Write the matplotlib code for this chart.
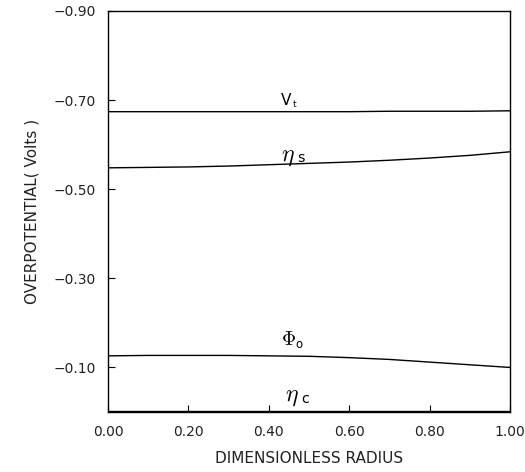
import numpy as np
import matplotlib
matplotlib.use("Agg")
import matplotlib.pyplot as plt

# radial positions and overpotential profiles (volts)
radius = [0.0, 0.1, 0.2, 0.3, 0.4, 0.5, 0.6, 0.7, 0.8, 0.9, 1.0]
v_t = [-0.674, -0.674, -0.674, -0.674, -0.674, -0.674, -0.674, -0.675, -0.675, -0.675, -0.676]
eta_s = [-0.548, -0.549, -0.550, -0.552, -0.555, -0.558, -0.561, -0.565, -0.570, -0.576, -0.584]
phi_o = [-0.126, -0.127, -0.127, -0.127, -0.126, -0.125, -0.122, -0.118, -0.112, -0.106, -0.100]
eta_c = [-0.002, -0.002, -0.002, -0.002, -0.002, -0.002, -0.002, -0.002, -0.002, -0.002, -0.002]

xticks = [0.0, 0.2, 0.4, 0.6, 0.8, 1.0]
yticks = [-0.10, -0.30, -0.50, -0.70, -0.90]

plt.rcParams['font.family'] = ['DejaVu Sans']
plt.rcParams['mathtext.fontset'] = 'cm'

fig = plt.figure(figsize=(5.25, 4.72), dpi=100)
ax = fig.add_axes([108 / 525, 60 / 472, 402 / 525, 401 / 472])

for ys in (v_t, eta_s, phi_o, eta_c):
    ax.plot(radius, ys, color='black', lw=1.0)

ax.set_xlim(0, 1.0)
ax.set_ylim(0.0, -0.90)

ax.set_xticks(xticks)
ax.set_xticklabels(["%.2f" % t for t in xticks])
ax.set_yticks(yticks)
ax.set_yticklabels(["\u2212%.2f" % abs(t) for t in yticks])
ax.tick_params(direction='in', length=5, width=0.8, labelsize=10, pad=9,
               colors='black', labelcolor='#222222')
for s in ax.spines.values():
    s.set_linewidth(1.0)

ax.set_xlabel("DIMENSIONLESS RADIUS", fontsize=11, labelpad=9, color='#222222')
ax.set_ylabel("OVERPOTENTIAL( Volts )", fontsize=11, labelpad=10, color='#222222')

# curve labels: symbol plus a small sans subscript
def label(x, y, sym, sub, size, sub_dx, sub_dy=0.006):
    ax.text(x, y, sym, fontsize=size, ha='left', va='baseline')
    ax.text(x + sub_dx, y + sub_dy, sub, fontsize=size * 0.6, ha='left', va='baseline')

label(0.43, -0.690, "V", "t", 11, 0.030)
label(0.43, -0.565, r"$\eta$", "s", 17, 0.040, 0.004)
label(0.43, -0.150, r"$\Phi$", "o", 14, 0.036)
label(0.44, -0.025, r"$\eta$", "c", 17, 0.040, 0.004)

fig.savefig("out.png", dpi=100)
